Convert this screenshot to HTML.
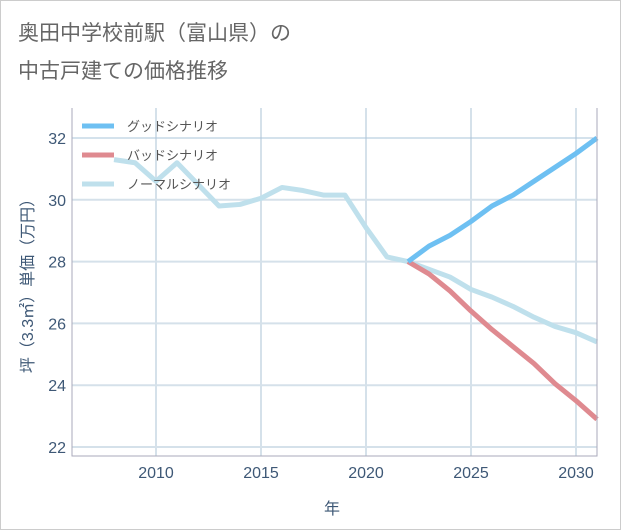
<!DOCTYPE html>
<html><head><meta charset="utf-8"><style>
body{margin:0;background:#fff;}
svg{display:block;font-family:"Liberation Sans","Noto Sans CJK JP",sans-serif;}
</style></head><body>
<svg id="c" width="621" height="530">
<rect x="0.5" y="0.5" width="620" height="529" fill="#fff" stroke="#ccc"/>
<text x="18" y="40" font-size="21" fill="#666">奥田中学校前駅（富山県）の</text>
<text x="18" y="78" font-size="21" fill="#666">中古戸建ての価格推移</text>
<g id="grid"></g><g id="series"></g><g id="axes"></g>
<text x="332" y="514" font-size="16" fill="#3e5876" text-anchor="middle">年</text>
<text transform="translate(33,282) rotate(-90)" font-size="16" fill="#3e5876" text-anchor="middle">坪（3.3㎡）単価（万円）</text>
</svg>
<script>
const normalYears=[2008,2009,2010,2011,2013,2014,2015,2016,2017,2018,2019,2020,2021,2022,2023,2024,2025,2026,2027,2028,2029,2030,2031];
const normalVals=[31.3,31.2,30.6,31.2,29.8,29.85,30.05,30.4,30.3,30.15,30.15,29.1,28.15,28.0,27.75,27.5,27.1,26.85,26.55,26.2,25.9,25.7,25.4];
const futureYears=[2022,2023,2024,2025,2026,2027,2028,2029,2030,2031];
const goodVals=[28.0,28.5,28.85,29.3,29.8,30.15,30.6,31.05,31.5,32.0];
const badVals=[28.0,27.6,27.05,26.4,25.8,25.25,24.7,24.05,23.5,22.9];
const xTicks=[2010,2015,2020,2025,2030];
const yTicks=[22,24,26,28,30,32];
const legendLabels=["グッドシナリオ","バッドシナリオ","ノーマルシナリオ"];
const X0=72,X1=597,Y0=108,Y1=456;
const xs=y=>X0+(y-2006)*(X1-X0)/25;
const ys=v=>447-(v-22)*(447-138)/10;
const NS="http://www.w3.org/2000/svg";
function mk(t,a,p){const e=document.createElementNS(NS,t);for(const k in a)e.setAttribute(k,a[k]);p.appendChild(e);return e;}
const grid=document.getElementById('grid'),ser=document.getElementById('series'),ax=document.getElementById('axes');
for(const t of xTicks){
 const l=mk('line',{x1:xs(t),x2:xs(t),y1:Y0,y2:Y1,stroke:'#d5e1ea','stroke-width':2},grid);
 
 
 const tx=mk('text',{x:xs(t),y:478,'font-size':16,fill:'#3e5876','text-anchor':'middle'},ax);tx.textContent=t;
 
 
}
for(const t of yTicks){
 const l=mk('line',{x1:X0,x2:X1,y1:ys(t),y2:ys(t),stroke:t==32?'#aac4da':'#d5e1ea','stroke-width':t==32?1:2},grid);
 
 
 const tx=mk('text',{x:66,y:ys(t)+6,'font-size':16,fill:'#3e5876','text-anchor':'end'},ax);tx.textContent=t;
 
 
}
const fr=mk('path',{d:`M${X0} ${Y0}V${Y1}H${X1}V${Y0}`,fill:'none',stroke:'#aab',"stroke-width":1},ax);


function line(xv,yv,col,name){
 const p=mk('polyline',{points:xv.map((x,i)=>xs(x)+','+ys(yv[i])).join(' '),fill:'none',stroke:col,'stroke-width':5,'stroke-linejoin':'round'},ser);
 
 
}
line(normalYears,normalVals,'#bfe0ec','normal-scenario-line');
line(futureYears,badVals,'#df8a90','bad-scenario-line');
line(futureYears,goodVals,'#6ec0f2','good-scenario-line');
const lg=mk('g',{},ser);


const cols=['#6ec0f2','#df8a90','#bfe0ec'];
legendLabels.forEach((s,i)=>{
 const y=126+i*29;
 const r=mk('rect',{x:82,y:y-2.5,width:32,height:5,fill:cols[i]},lg);
 
 
 const t=mk('text',{x:127,y:y+5,'font-size':13,fill:'#555'},lg);t.textContent=s;
 
 
});
</script>
</body></html>
